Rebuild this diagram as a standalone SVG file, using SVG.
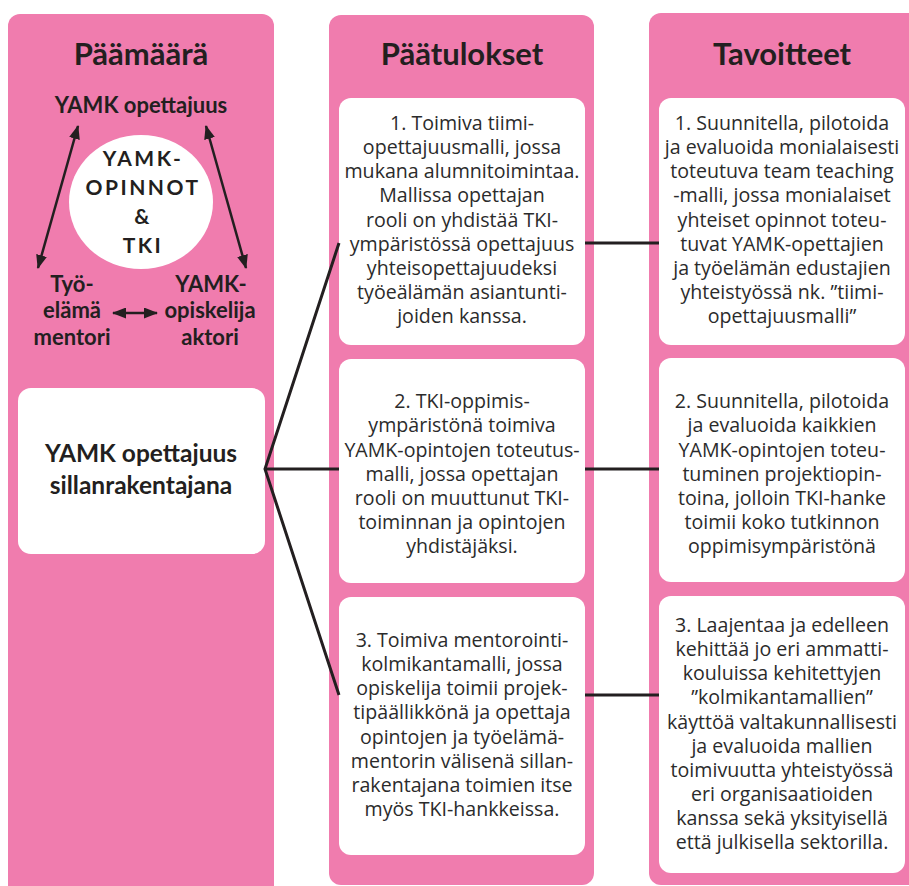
<svg xmlns="http://www.w3.org/2000/svg" width="909" height="886" viewBox="0 0 909 886">
<style>
.col{fill:#F07CAE}
.box{fill:#FFFFFF}
.hdr{font-family:Lato,"Liberation Sans",sans-serif;font-weight:bold;font-size:31px;fill:#231F20;text-anchor:middle}
.lbl{font-family:Lato,"Liberation Sans",sans-serif;font-weight:bold;font-size:22px;fill:#231F20;text-anchor:middle}
.big{font-family:Lato,"Liberation Sans",sans-serif;font-weight:bold;font-size:24.5px;fill:#231F20;text-anchor:middle}
.circ{font-family:Lato,"Liberation Sans",sans-serif;font-weight:bold;font-size:21px;letter-spacing:2.5px;fill:#231F20;text-anchor:middle}
.txt{font-family:"Open Sans","Noto Sans",sans-serif;font-size:19.6px;fill:#2B2B2B;text-anchor:middle}
.ln{stroke:#231F20;stroke-width:3;fill:none}
.ar{stroke:#231F20;stroke-width:2.5;fill:none}
</style>
<defs>
<marker id="ah" viewBox="0 0 14 11" refX="13" refY="5.5" markerWidth="14" markerHeight="11" markerUnits="userSpaceOnUse" orient="auto-start-reverse">
<path d="M0,0 L14,5.5 L0,11 Z" fill="#231F20"/>
</marker>
</defs>

<g id="col-paamaara">
<rect class="col" x="8" y="14" width="266" height="886" rx="12"/>
<text class="hdr" x="141" y="65">Päämäärä</text>
</g>
<g id="col-paatulokset">
<rect class="col" x="329" y="15" width="265" height="870" rx="12"/>
<text class="hdr" x="462" y="65">Päätulokset</text>
</g>
<g id="col-tavoitteet">
<rect class="col" x="649" y="13" width="272" height="872" rx="12"/>
<text class="hdr" x="782" y="65">Tavoitteet</text>
</g>

<g id="node-yamk-opettajuus">
<text class="lbl" x="141" y="113">YAMK opettajuus</text>
</g>
<g id="node-yamk-opinnot">
<ellipse cx="141" cy="202" rx="72" ry="67" fill="#FFFFFF"/>
<text class="circ" x="143" y="166">YAMK-</text>
<text class="circ" x="143" y="195">OPINNOT</text>
<text class="circ" x="143" y="224">&amp;</text>
<text class="circ" x="143" y="253">TKI</text>
</g>
<g id="node-tyoelama">
<text class="lbl" x="72" y="292">Työ-</text>
<text class="lbl" x="72" y="318">elämä</text>
<text class="lbl" x="72" y="345">mentori</text>
</g>
<g id="node-opiskelija">
<text class="lbl" x="211" y="292">YAMK-</text>
<text class="lbl" x="210" y="318">opiskelija</text>
<text class="lbl" x="210" y="345">aktori</text>
</g>

<g id="node-sillanrakentajana">
<rect class="box" x="18" y="388" width="247" height="166" rx="13"/>
<text class="big" x="141" y="462">YAMK opettajuus</text>
<text class="big" x="141" y="494">sillanrakentajana</text>
</g>

<g id="node-p1">
<rect class="box" x="339" y="98" width="246" height="247" rx="12"/>
<text class="txt" x="462" y="130">1. Toimiva tiimi-</text>
<text class="txt" x="462" y="154">opettajuusmalli, jossa</text>
<text class="txt" x="462" y="178">mukana alumnitoimintaa.</text>
<text class="txt" x="462" y="202">Mallissa opettajan</text>
<text class="txt" x="462" y="226.5">rooli on yhdistää TKI-</text>
<text class="txt" x="462" y="250.5">ympäristössä opettajuus</text>
<text class="txt" x="462" y="275">yhteisopettajuudeksi</text>
<text class="txt" x="462" y="299">työeälämän asiantunti-</text>
<text class="txt" x="462" y="323">joiden kanssa.</text>
</g>
<g id="node-p2">
<rect class="box" x="339" y="359" width="246" height="224" rx="12"/>
<text class="txt" x="462" y="408">2. TKI-oppimis-</text>
<text class="txt" x="462" y="432">ympäristönä toimiva</text>
<text class="txt" x="462" y="456.5">YAMK-opintojen toteutus-</text>
<text class="txt" x="462" y="480.5">malli, jossa opettajan</text>
<text class="txt" x="462" y="505">rooli on muuttunut TKI-</text>
<text class="txt" x="462" y="529">toiminnan ja opintojen</text>
<text class="txt" x="462" y="553">yhdistäjäksi.</text>
</g>
<g id="node-p3">
<rect class="box" x="339" y="597" width="246" height="258" rx="12"/>
<text class="txt" x="462" y="647">3. Toimiva mentorointi-</text>
<text class="txt" x="462" y="671">kolmikantamalli, jossa</text>
<text class="txt" x="462" y="695">opiskelija toimii projek-</text>
<text class="txt" x="462" y="719">tipäällikkönä ja opettaja</text>
<text class="txt" x="462" y="743.5">opintojen ja työelämä-</text>
<text class="txt" x="462" y="767.5">mentorin välisenä sillan-</text>
<text class="txt" x="462" y="792">rakentajana toimien itse</text>
<text class="txt" x="462" y="816">myös TKI-hankkeissa.</text>
</g>

<g id="node-t1">
<rect class="box" x="659" y="98" width="246" height="247" rx="12"/>
<text class="txt" x="782" y="130">1. Suunnitella, pilotoida</text>
<text class="txt" x="782" y="154">ja evaluoida monialaisesti</text>
<text class="txt" x="782" y="178">toteutuva team teaching</text>
<text class="txt" x="782" y="202">-malli, jossa monialaiset</text>
<text class="txt" x="782" y="226.5">yhteiset opinnot toteu-</text>
<text class="txt" x="782" y="250.5">tuvat YAMK-opettajien</text>
<text class="txt" x="782" y="275">ja työelämän edustajien</text>
<text class="txt" x="782" y="299">yhteistyössä nk. ”tiimi-</text>
<text class="txt" x="782" y="323">opettajuusmalli”</text>
</g>
<g id="node-t2">
<rect class="box" x="659" y="358" width="246" height="224" rx="12"/>
<text class="txt" x="782" y="408">2. Suunnitella, pilotoida</text>
<text class="txt" x="782" y="432">ja evaluoida kaikkien</text>
<text class="txt" x="782" y="456.5">YAMK-opintojen toteu-</text>
<text class="txt" x="782" y="480.5">tuminen projektiopin-</text>
<text class="txt" x="782" y="505">toina, jolloin TKI-hanke</text>
<text class="txt" x="782" y="529">toimii koko tutkinnon</text>
<text class="txt" x="782" y="553">oppimisympäristönä</text>
</g>
<g id="node-t3">
<rect class="box" x="659" y="596" width="246" height="277" rx="12"/>
<text class="txt" x="782" y="632">3. Laajentaa ja edelleen</text>
<text class="txt" x="782" y="656">kehittää jo eri ammatti-</text>
<text class="txt" x="782" y="680">kouluissa kehitettyjen</text>
<text class="txt" x="782" y="704">”kolmikantamallien”</text>
<text class="txt" x="782" y="728.5">käyttöä valtakunnallisesti</text>
<text class="txt" x="782" y="752.5">ja evaluoida mallien</text>
<text class="txt" x="782" y="777">toimivuutta yhteistyössä</text>
<text class="txt" x="782" y="801">eri organisaatioiden</text>
<text class="txt" x="782" y="825">kanssa sekä yksityisellä</text>
<text class="txt" x="782" y="849">että julkisella sektorilla.</text>
</g>

<g id="connectors">
<line class="ar" x1="38" y1="268" x2="78" y2="126" marker-start="url(#ah)" marker-end="url(#ah)"/>
<line class="ar" x1="246" y1="268" x2="206" y2="126" marker-start="url(#ah)" marker-end="url(#ah)"/>
<line class="ar" x1="113" y1="313" x2="157" y2="313" marker-start="url(#ah)" marker-end="url(#ah)"/>
<polyline class="ln" points="339,243 265,469 339,695"/>
<line class="ln" x1="265" y1="469" x2="339" y2="469"/>
<line class="ln" x1="585" y1="243" x2="659" y2="243"/>
<line class="ln" x1="585" y1="469" x2="659" y2="469"/>
<line class="ln" x1="585" y1="695" x2="659" y2="695"/>
</g>
</svg>
